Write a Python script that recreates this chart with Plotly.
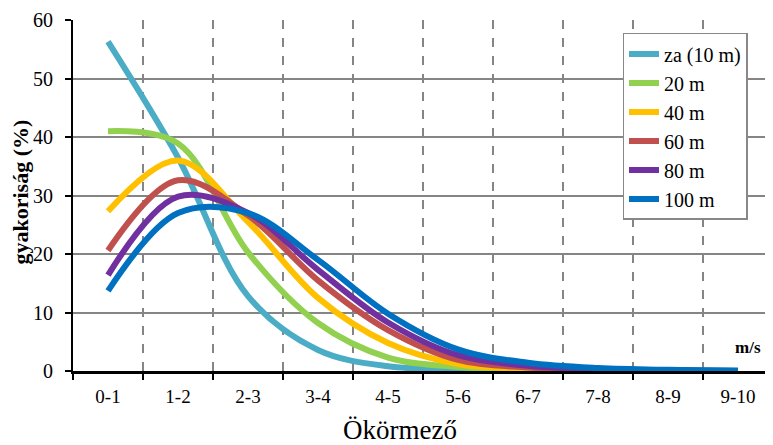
import plotly.graph_objects as go

categories = ["0-1", "1-2", "2-3", "3-4", "4-5", "5-6", "6-7", "7-8", "8-9", "9-10"]

za_10m = [56.3, 36.5, 12.8, 3.6, 0.8, 0.3, 0.1, 0.05, 0.0, 0.0]
m20 = [41.0, 38.9, 20.3, 8.2, 2.3, 0.7, 0.2, 0.1, 0.0, 0.0]
m40 = [27.3, 36.0, 25.5, 12.5, 4.8, 1.2, 0.4, 0.1, 0.05, 0.0]
m60 = [20.6, 32.6, 26.6, 15.5, 7.0, 1.9, 0.6, 0.2, 0.05, 0.0]
m80 = [16.4, 29.8, 27.0, 17.3, 8.3, 2.7, 0.9, 0.3, 0.1, 0.0]
m100 = [13.7, 27.0, 27.0, 19.0, 9.8, 3.7, 1.4, 0.5, 0.2, 0.1]

series_names = ["za (10 m)", "20 m", "40 m", "60 m", "80 m", "100 m"]
series_values = [za_10m, m20, m40, m60, m80, m100]
series_colors = ["#4BACC6", "#92D050", "#FFC000", "#C0504D", "#7030A0", "#0070C0"]

y_ticks = [0, 10, 20, 30, 40, 50, 60]

FONT = "Liberation Serif, Times New Roman, serif"

fig = go.Figure()
for name, vals, col in zip(series_names, series_values, series_colors):
    fig.add_trace(go.Scatter(
        x=categories, y=vals, name=name, mode="lines",
        line=dict(color=col, width=6, shape="spline", smoothing=1.0),
    ))

# page body has an 8px default margin, so the figure is 8px smaller
fig.update_layout(
    width=765, height=437,
    margin=dict(l=65, r=0, t=12, b=74),
    paper_bgcolor="white", plot_bgcolor="white",
    font=dict(family=FONT, size=19, color="black"),
    legend=dict(
        x=0.785, y=0.963, xanchor="left", yanchor="top",
        bgcolor="white", bordercolor="#888888", borderwidth=1.5,
        font=dict(family=FONT, size=20, color="black"),
        tracegroupgap=0,
    ),
    xaxis=dict(
        type="category", range=[-0.5, 9.5],
        tickson="boundaries", ticks="outside", ticklen=6, tickwidth=2, tickcolor="black",
        showline=True, linecolor="black", linewidth=2.5,
        showgrid=True, gridcolor="#858585", gridwidth=1.5, griddash="dash",
        tickfont=dict(family=FONT, size=19, color="black"),
        ticklabelstandoff=6,
    ),
    yaxis=dict(
        range=[0, 60], tickvals=y_ticks,
        ticks="outside", ticklen=6, tickwidth=2, tickcolor="black",
        showline=True, linecolor="black", linewidth=2,
        showgrid=True, gridcolor="#858585", gridwidth=1.5,
        zeroline=False,
        tickfont=dict(family=FONT, size=20, color="black"),
        ticklabelstandoff=8,
    ),
    annotations=[
        dict(text="<b>gyakoriság (%)</b>", xref="paper", yref="paper",
             x=-0.075, y=0.51, textangle=-90, showarrow=False,
             xanchor="center", yanchor="middle",
             font=dict(family=FONT, size=22, color="black")),
        dict(text="Ökörmező", xref="paper", yref="paper",
             x=0.467, y=-0.168, showarrow=False,
             xanchor="center", yanchor="middle",
             font=dict(family=FONT, size=27, color="black")),
        dict(text="<b>m/s</b>", xref="paper", yref="paper",
             x=0.964, y=0.068, showarrow=False,
             xanchor="center", yanchor="middle",
             font=dict(family=FONT, size=17, color="black")),
    ],
)

fig.write_html("out.html")
